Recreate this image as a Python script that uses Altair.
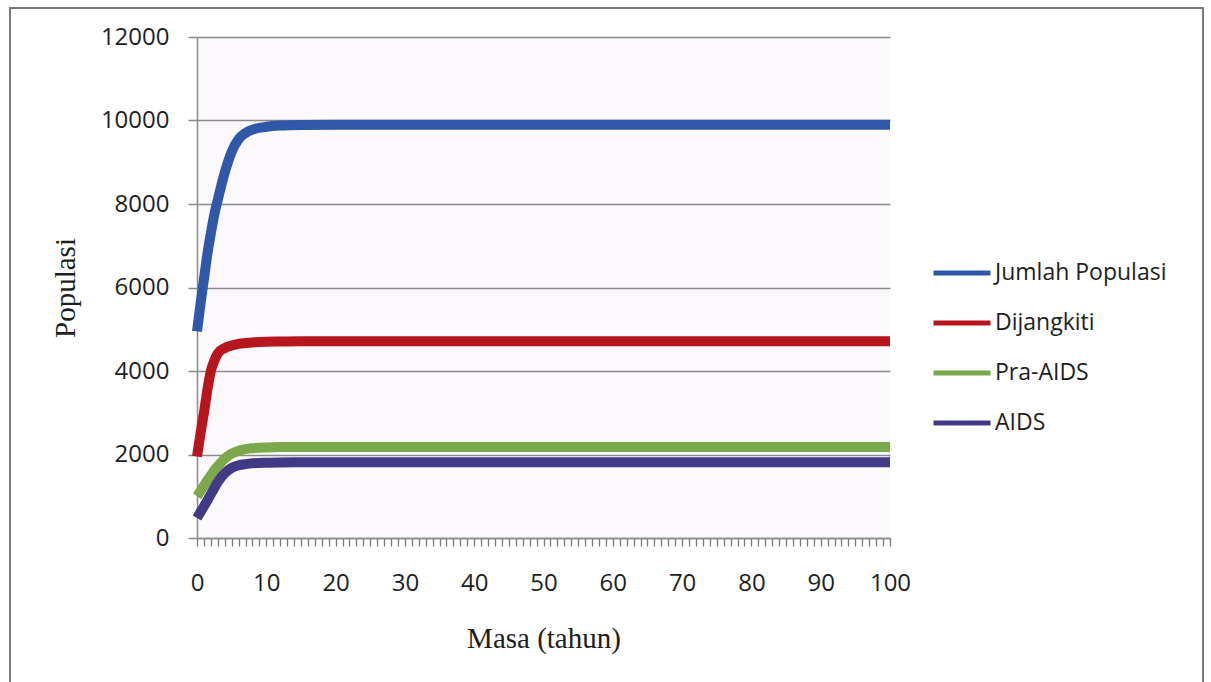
import altair as alt
import pandas as pd

# time points (years)
tahun = [0, 0.5, 1, 1.5, 2, 2.5, 3, 4, 5, 6, 7, 8, 10, 12, 15, 20, 30, 40, 50, 60, 70, 80, 90, 100]

jumlah_populasi = [4950, 5600, 6200, 6800, 7300, 7750, 8100, 8750, 9250, 9550, 9700, 9780, 9850, 9880,
                   9895, 9900, 9900, 9900, 9900, 9900, 9900, 9900, 9900, 9900]
dijangkiti = [1950, 2500, 3000, 3550, 4000, 4250, 4420, 4550, 4610, 4650, 4670, 4685, 4700, 4705,
              4710, 4710, 4710, 4710, 4710, 4710, 4710, 4710, 4710, 4710]
pra_aids = [1000, 1120, 1250, 1380, 1500, 1620, 1720, 1900, 2020, 2090, 2130, 2150, 2170, 2178,
            2180, 2180, 2180, 2180, 2180, 2180, 2180, 2180, 2180, 2180]
aids = [480, 620, 760, 900, 1050, 1200, 1340, 1550, 1680, 1740, 1770, 1790, 1805, 1810,
        1812, 1815, 1815, 1815, 1815, 1815, 1815, 1815, 1815, 1815]

series_names = ["Jumlah Populasi", "Dijangkiti", "Pra-AIDS", "AIDS"]
series_colors = ["#2f58a8", "#b8161e", "#7aa84a", "#433a86"]
x_ticks = list(range(0, 101))
y_ticks = [0, 2000, 4000, 6000, 8000, 10000, 12000]

rows = []
for name, vals in zip(series_names, [jumlah_populasi, dijangkiti, pra_aids, aids]):
    for t, v in zip(tahun, vals):
        rows.append({"Masa": t, "Populasi": v, "Siri": name})
df = pd.DataFrame(rows)

lines = alt.Chart(df).mark_line(strokeWidth=10, interpolate="monotone", strokeCap="butt").encode(
    x=alt.X("Masa:Q",
            scale=alt.Scale(domain=[0, 100], nice=False, zero=False),
            axis=alt.Axis(values=x_ticks,
                          labelExpr="datum.value % 10 == 0 ? datum.label : ''",
                          labelOverlap=False, labelFlush=False, grid=False,
                          tickSize=8, tickColor="#7a7a7a", tickWidth=1.3,
                          domainColor="#8a8a8a", domainWidth=1.5,
                          labelFont="Open Sans", labelFontSize=24, labelColor="#1e1e1e",
                          labelPadding=25,
                          title="Masa (tahun)", titleFont="Liberation Serif", titleFontSize=29,
                          titleFontWeight="normal", titleColor="#1e1e1e",
                          titleX=346.5, titleY=100, titleBaseline="middle")),
    y=alt.Y("Populasi:Q",
            scale=alt.Scale(domain=[0, 12000], nice=False),
            axis=alt.Axis(values=y_ticks, format="d", grid=True, gridColor="#8a8a8a", gridWidth=1.5,
                          tickSize=9, tickColor="#8a8a8a", tickWidth=1.5,
                          domainColor="#8a8a8a", domainWidth=1.5,
                          labelFont="Open Sans", labelFontSize=24, labelColor="#1e1e1e",
                          labelPadding=19,
                          title="Populasi", titleFont="Liberation Serif", titleFontSize=29,
                          titleFontWeight="normal", titleColor="#1e1e1e",
                          titleAngle=270, titleX=-132, titleY=250.5, titleBaseline="middle",
                          titleAlign="center")),
    color=alt.Color("Siri:N",
                    scale=alt.Scale(domain=series_names, range=series_colors),
                    sort=series_names,
                    legend=alt.Legend(title=None, orient="none", legendX=734, legendY=205,
                                      symbolType="stroke", symbolSize=3249, symbolStrokeWidth=5,
                                      labelFont="Open Sans", labelFontSize=23, labelColor="#1e1e1e",
                                      labelLimit=400, labelOffset=2, rowPadding=7)),
)

border_df = pd.DataFrame({"k": [0]})
border = alt.Chart(border_df).mark_rect(fill=None, stroke="#7a7a7a", strokeWidth=2).encode(
    x=alt.value(-187), x2=alt.value(1006), y=alt.value(-29), y2=alt.value(680)
)

chart = alt.layer(lines, border).properties(
    width=693, height=501,
    autosize=alt.AutoSizeParams(type="none"),
    padding={"left": 197, "top": 37, "right": 321, "bottom": 144},
    background="white",
).configure_view(stroke=None, fill="#fbf9fc")

chart.save("out.html", embed_options={"renderer": "svg", "actions": False})
